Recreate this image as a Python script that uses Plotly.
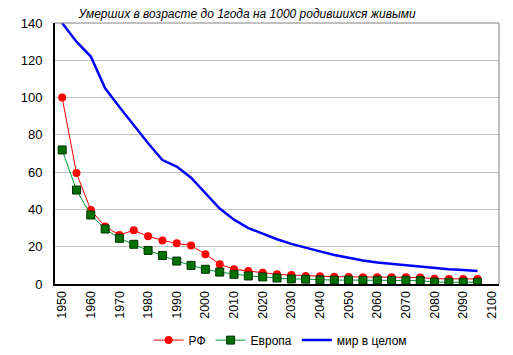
import plotly.graph_objects as go

years = list(range(1950, 2100, 5))
rf = [100, 59.5, 39.7, 30.8, 26.3, 28.8, 25.6, 23.4, 21.8, 20.7, 16.0, 10.6, 7.9, 7.0,
      6.1, 5.2, 4.8, 4.3, 4.2, 3.9, 3.8, 3.6, 3.6, 3.6, 3.6, 3.5, 2.8, 2.7, 2.7, 2.7]
europe = [71.9, 50.4, 37.0, 29.5, 24.5, 21.3, 18.0, 15.3, 12.3, 10.0, 7.9, 6.4, 5.2, 4.3,
          3.8, 3.2, 2.7, 2.6, 2.2, 2.1, 2.1, 2.0, 2.0, 2.0, 2.0, 1.8, 1.0, 0.9, 0.9, 0.9]
world = [140, 130, 122, 105, 95, 85, 75.5, 66.5, 63, 57, 49, 40.5, 34.5, 30,
         27, 24, 21.5, 19.3, 17.5, 15.6, 14, 12.6, 11.5, 10.7, 10, 9.1, 8.5, 7.9, 7.5, 7.0]
tick_years = list(range(1950, 2101, 10))
title = "Умерших в возрасте до 1года на 1000 родившихся живыми"

font_family = "Liberation Sans, Arial, sans-serif"

fig = go.Figure()
fig.add_trace(go.Scatter(
    x=years, y=rf, name="РФ", mode="lines+markers",
    line=dict(color="#ff0000", width=1),
    marker=dict(symbol="circle", size=8, color="#ff0000", line=dict(color="#ff0000", width=0)),
))
fig.add_trace(go.Scatter(
    x=years, y=europe, name="Европа", mode="lines+markers",
    line=dict(color="#009a33", width=1),
    marker=dict(symbol="square", size=8, color="#007000", line=dict(color="#003300", width=1)),
))
fig.add_trace(go.Scatter(
    x=years, y=world, name="мир в целом", mode="lines",
    line=dict(color="#0000ff", width=2.5),
))

fig.update_layout(
    width=513, height=355,
    margin=dict(l=47, r=22, t=15, b=79, autoexpand=False),
    paper_bgcolor="white", plot_bgcolor="white",
    font=dict(family=font_family, size=12, color="#000000"),
    title=dict(text="<i>" + title + "</i>", x=0.466, xref="container", xanchor="center",
               y=1 - 6 / 355, yref="container", yanchor="middle",
               font=dict(family=font_family, size=12, color="#000000")),
    showlegend=True,
    legend=dict(orientation="h", x=0.507, xanchor="center", y=-0.215, yanchor="middle",
                font=dict(family=font_family, size=12), itemwidth=30,
                bgcolor="rgba(0,0,0,0)"),
    xaxis=dict(range=[1947.5, 2102.5], tickmode="array", tickvals=tick_years,
               ticktext=[str(t) for t in tick_years], tickangle=-90,
               showgrid=False, showline=True, linecolor="#000000", linewidth=2,
               ticks="", zeroline=False, tickfont=dict(size=12.5)),
    yaxis=dict(range=[0, 140], dtick=20, showgrid=True, gridcolor="#c0c0c0", gridwidth=1,
               showline=True, linecolor="#000000", linewidth=2, ticks="",
               zeroline=False, tickfont=dict(size=13), ticklabelstandoff=8),
    shapes=[
        dict(type="line", xref="paper", yref="paper", x0=0, x1=1, y0=1, y1=1,
             line=dict(color="#808080", width=1)),
        dict(type="line", xref="paper", yref="paper", x0=1, x1=1, y0=0, y1=1,
             line=dict(color="#808080", width=1)),
    ],
)

fig.write_html("out.html")
